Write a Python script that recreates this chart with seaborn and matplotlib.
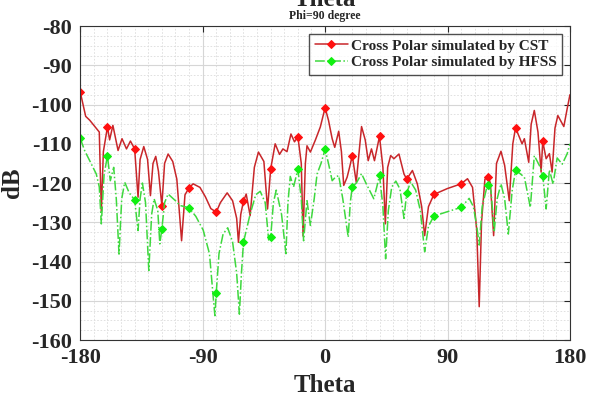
import numpy as np
import pandas as pd
import matplotlib
matplotlib.use("Agg")
import matplotlib.pyplot as plt
import seaborn as sns
from matplotlib.ticker import MultipleLocator

# ---- data ----
cst_theta = [-180, -176, -173, -169, -166, -164.5, -163, -160, -158.4, -156, -152.2, -149.3, -146, -143.1,
             -140, -137.5, -136, -133.3, -130.5, -128.4, -126.5, -124.5, -122.5, -120, -118, -115.4, -112,
             -109, -105.5, -103, -100, -97, -92, -88, -84, -80, -77, -72, -68, -65, -63.7, -62, -60, -58,
             -55.1, -52, -49, -45, -42.3, -40, -36.7, -33.5, -31, -28, -25.1, -22.5, -20, -17.5, -16.2,
             -14.5, -13.3, -10.8, -7.1, -3.5, 0, 2.5, 5.2, 7.1, 10, 12, 13.7, 16.2, 18, 20, 22.9, 26.8,
             29.5, 31.7, 34.1, 36.3, 40, 42.5, 44.3, 46, 48.2, 50.6, 54.3, 58, 60, 64.2, 67.8, 71, 73.2,
             76, 80, 89.9, 100, 104.7, 108.4, 111.5, 113.3, 115, 117.5, 120, 121.5, 123.9, 126, 129.3, 132,
             135.4, 138, 140, 142.5, 144.8, 146.5, 149.7, 151.5, 153.8, 156.5, 158.8, 160, 162.5, 164.9,
             166.9, 169, 171.1, 173, 175.5, 178, 180]
cst_db = [-96.8, -103, -104, -105.7, -107, -127.4, -112, -105.7, -109, -105.3, -111.7, -108.7, -111.3, -109.3,
          -111.3, -123.6, -114, -110.7, -114, -123.2, -115, -113.2, -117, -125.8, -115, -112.6, -114.5,
          -119, -134.7, -123, -121.2, -120.2, -121.1, -123.5, -126.5, -127.4, -125, -122.5, -124.5, -129,
          -135.1, -128, -124.6, -122.8, -128.3, -116, -112.1, -114.5, -126.6, -116.4, -110, -112.7, -111.3,
          -112, -107.5, -109.5, -108.2, -115, -133.5, -115, -110.5, -112.1, -109, -105.7, -100.8, -104,
          -108.7, -110.9, -106.8, -112, -120.6, -118.5, -116, -113, -119.8, -105.6, -109, -114.3, -111.3,
          -114.3, -108.1, -116, -130.4, -116, -113, -113.8, -112.6, -117.7, -119, -116.8, -120.2, -126,
          -133.4, -126, -122.9, -121.4, -120.2, -118.9, -121.1, -132, -151.5, -130, -119, -118.5, -120,
          -133.4, -115, -111.9, -115.5, -124.5, -110, -105.9, -108, -110, -108.7, -114.7, -105, -101.5,
          -107, -117.2, -109.4, -113.8, -112.5, -117.2, -106, -102.8, -104, -105.6, -101, -97.5]

hfss_theta = [-180, -176.8, -171.9, -168.2, -166, -164.5, -162.5, -160, -157.9, -155.4, -153.5, -151.5, -149.5,
              -147.3, -144, -140, -137.5, -136, -134.3, -132, -129.6, -127.5, -125.7, -123, -121.5, -120,
              -118, -115.4, -110, -106.8, -100, -95, -89.6, -85, -82, -81, -80, -78, -75, -71.6, -68, -65,
              -63, -61.5, -60, -55.1, -51, -47.7, -44, -41.5, -40, -38, -35.9, -32, -28.8, -27.3, -25.6,
              -23.2, -20, -17.5, -15.8, -13.3, -10.8, -8, -5.9, -3, 0, 2.5, 5.2, 7.6, 10, 13, 17, 18.5, 20,
              23, 26.8, 30, 35.8, 38, 40, 42.5, 44.5, 46.5, 49, 52, 55, 58, 60, 62.9, 66.6, 70, 73.2, 76, 80,
              89.9, 100, 105.9, 109, 111.5, 113.3, 115.5, 119.5, 120, 122, 124.3, 126.5, 129.3, 132, 134.7,
              137.5, 140, 143, 146.5, 150.9, 153.8, 158.1, 160, 162.5, 164.9, 167.6, 170.6, 174.3, 178, 180]
hfss_db = [-108.6, -111.7, -115.1, -117.7, -121, -130.4, -118, -113, -119.4, -116, -124, -138.1, -124,
           -119.8, -122.5, -124.3, -132.1, -124, -120, -125, -142.3, -128, -124, -127, -135.5, -131.7,
           -125, -122.8, -124.5, -125.7, -126.3, -128.5, -132, -138, -150, -153.8, -147.9, -138, -133,
           -131.4, -135, -143, -153.4, -143, -135.1, -127.9, -123, -122.1, -125, -134.5, -133.8, -125,
           -121.8, -128, -138, -125, -118.3, -121, -116.5, -124, -134.7, -124.5, -130.8, -124, -117.7,
           -115, -111.4, -115, -119.4, -118.5, -118.1, -124, -133.8, -125, -120.9, -120, -117.6, -120,
           -124, -121, -118, -126, -139.3, -127, -121, -119.5, -121.5, -129, -122.5, -119.7, -121.8, -127,
           -137.5, -131, -128.4, -127.3, -126.2, -123.9, -126, -131, -135.8, -126, -120.2, -120.6, -122,
           -132.5, -124, -120.2, -124, -133, -122, -116.8, -117.5, -118.5, -126.2, -113, -115.9, -118.1,
           -126.6, -116.6, -120.3, -113.6, -115.2, -112.5, -110]

marker_theta = [-180, -160, -140, -120, -100, -80, -60, -40, -20, 0, 20, 40, 60, 80, 100, 120, 140, 160]
x_ticks = [-180, -90, 0, 90, 180]
y_ticks = [-160, -150, -140, -130, -120, -110, -100, -90, -80]
series_labels = ["Cross Polar simulated by CST", "Cross Polar simulated by HFSS"]

# ---- styling ----
sns.set_style("white")
plt.rcParams['font.family'] = ['Liberation Serif', 'DejaVu Serif']
plt.rcParams['font.weight'] = 'bold'
plt.rcParams['axes.unicode_minus'] = False

fig = plt.figure(figsize=(5.9, 4.01), dpi=100)
ax = fig.add_axes([0.136, 0.152, 0.830, 0.783])

df_cst = pd.DataFrame({"theta": cst_theta, "db": cst_db})
df_hfss = pd.DataFrame({"theta": hfss_theta, "db": hfss_db})
mk_cst = [i for i, t in enumerate(cst_theta) if t in marker_theta]
mk_hfss = [i for i, t in enumerate(hfss_theta) if t in marker_theta]

sns.lineplot(data=df_cst, x="theta", y="db", ax=ax, color="#c8262a", lw=1.1,
             marker="D", markevery=mk_cst, markersize=4.5, markerfacecolor="#ff1010",
             markeredgecolor="#ff1010", label=series_labels[0], sort=False)
sns.lineplot(data=df_hfss, x="theta", y="db", ax=ax, color="#3ed83e", lw=1.1, linestyle="-.",
             marker="D", markevery=mk_hfss, markersize=4.5, markerfacecolor="#10f010",
             markeredgecolor="#10f010", label=series_labels[1], sort=False)

ax.set_xlim(-180, 180)
ax.set_ylim(-160, -80)
ax.set_xticks(x_ticks)
ax.set_yticks(y_ticks)
ax.xaxis.set_minor_locator(MultipleLocator(10))
ax.yaxis.set_minor_locator(MultipleLocator(2.5))
ax.grid(which="major", color="#d6d6d6", lw=0.8, ls="-")
ax.grid(which="minor", color="#dcdcdc", lw=0.6, ls=(0, (2, 2)))
ax.set_axisbelow(True)
ax.tick_params(which="both", direction="in", top=True, right=True)
ax.tick_params(which="major", length=4, labelsize=16)
ax.tick_params(axis="y", which="major", pad=6)
ax.tick_params(axis="x", which="major", pad=6)
ax.tick_params(which="minor", length=0)
for s in ax.spines.values():
    s.set_color("#333333")
    s.set_linewidth(0.8)
for lab in ax.get_xticklabels() + ax.get_yticklabels():
    lab.set_fontweight("bold")

ax.set_xlabel("Theta", fontsize=18, fontweight="bold", labelpad=4)
ax.set_ylabel("dB", fontsize=18, fontweight="bold", labelpad=5)
ax.set_title("Phi=90 degree", fontsize=8.5, fontweight="bold", pad=5)
fig.text(0.551, 1 - 6 / 401, "Theta", ha="center", va="baseline", fontsize=18, fontweight="bold")

leg = ax.legend(loc="upper right", fontsize=11, frameon=True, fancybox=False, borderpad=0.35,
                handlelength=2.2, handletextpad=0.2, labelspacing=0.2, borderaxespad=0.5)
leg.get_frame().set_edgecolor("#222222")
leg.get_frame().set_linewidth(1.0)
for t in leg.get_texts():
    t.set_fontweight("bold")

fig.savefig("out.png", dpi=100)
